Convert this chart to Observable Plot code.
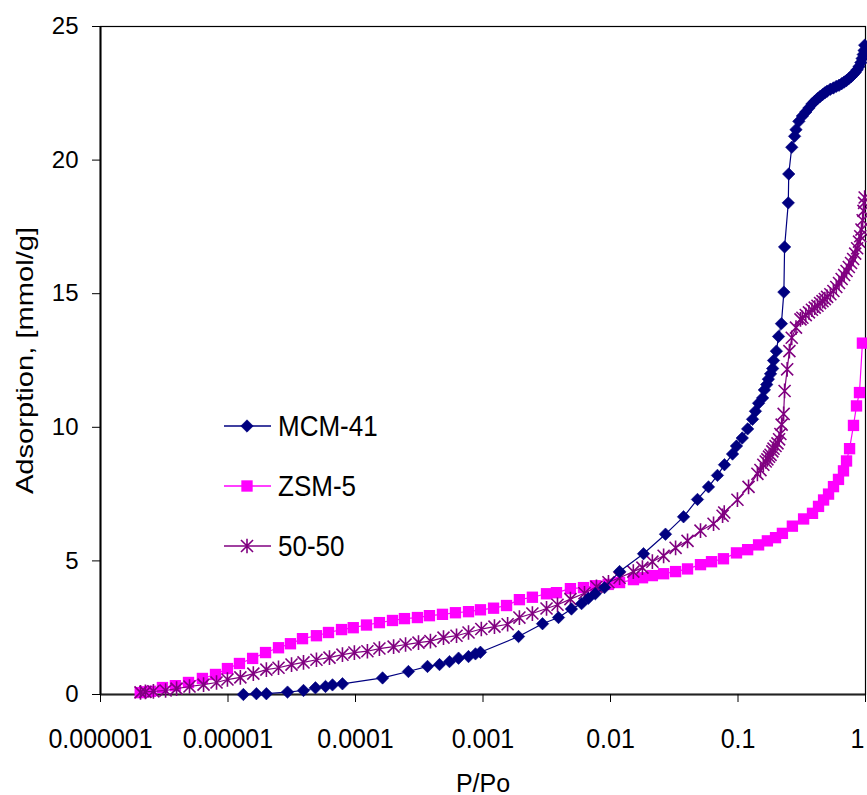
<!DOCTYPE html>
<html><head><meta charset="utf-8">
<script src="https://cdn.jsdelivr.net/npm/d3@7"></script>
<script src="https://cdn.jsdelivr.net/npm/@observablehq/plot@0.6"></script>
<style>
html,body{margin:0;padding:0;background:#fff;}
#wrap{position:relative;width:867px;height:795px;overflow:hidden;font-family:"Liberation Sans",Arial,sans-serif;background:#fff;}
#legend{position:absolute;left:0;top:0;width:0;height:0;}
.item{position:absolute;display:flex;align-items:center;height:30px;white-space:nowrap;}
.item span{font-size:26px;display:inline-block;transform:scaleY(1.15);margin-left:6px;color:#000;}
</style></head><body><div id="wrap"><div id="legend"></div></div>
<script>
// ---------------- data ----------------
const seriesNames = ["MCM-41", "ZSM-5", "50-50"];
const seriesColors = ["#000080", "#FF00FF", "#800080"];

const mcmX = [1.32e-5,1.67e-5,2.0e-5,2.93e-5,3.91e-5,4.85e-5,5.82e-5,6.6e-5,7.9e-5,1.63e-4,2.6e-4,3.67e-4,4.56e-4,5.46e-4,6.43e-4,7.7e-4,8.73e-4,9.55e-4,
  1.9e-3,2.93e-3,3.91e-3,4.94e-3,5.93e-3,6.7e-3,7.6e-3,8.97e-3,0.01178,0.01815,0.027,0.0374,0.0481,0.0587,0.069,0.0783,0.0906,0.0973,0.108,0.119,0.130,0.137,0.145,0.156,0.161,0.168,0.173,0.18,0.187,0.19,0.20,0.208,0.219,0.229,0.232,0.248,0.25,0.264,0.278,0.285,
  0.30,0.32,0.34,0.36,0.38,0.40,0.42,0.44,0.46,0.48,0.50,0.53,0.56,0.59,0.62,0.65,0.68,0.71,0.74,0.77,0.80,0.83,0.86,0.89,0.92,0.94,0.96,0.975,0.985];
const mcmY = [0,0.03,0.03,0.09,0.15,0.25,0.3,0.36,0.4,0.62,0.86,1.05,1.12,1.23,1.36,1.42,1.52,1.58,
  2.17,2.65,2.88,3.2,3.4,3.6,3.77,4.0,4.6,5.27,6.0,6.65,7.3,7.77,8.2,8.6,9.0,9.3,9.6,9.94,10.3,10.6,10.9,11.1,11.4,11.6,11.8,12.0,12.2,12.5,12.85,13.4,13.88,15.06,16.75,18.4,19.48,20.48,20.89,21.14,
  21.45,21.65,21.8,21.95,22.1,22.2,22.3,22.38,22.45,22.52,22.58,22.65,22.7,22.76,22.8,22.86,22.92,22.98,23.05,23.12,23.2,23.28,23.38,23.5,23.65,23.8,23.95,24.1,24.3];

const zsmX = [2.05e-6,2.3e-6,2.47e-6,3.06e-6,3.87e-6,4.9e-6,6.3e-6,7.98e-6,9.9e-6,1.23e-5,1.56e-5,1.97e-5,2.49e-5,3.09e-5,3.84e-5,4.94e-5,6.14e-5,7.77e-5,9.6e-5,
  1.22e-4,1.54e-4,1.95e-4,2.42e-4,3.06e-4,3.8e-4,4.81e-4,6.08e-4,7.7e-4,9.55e-4,1.21e-3,1.53e-3,1.93e-3,2.44e-3,3.15e-3,3.77e-3,4.85e-3,6.14e-3,7.62e-3,9.6e-3,
  0.01178,0.01514,0.01783,0.0213,0.0261,0.0324,0.0402,0.0508,0.062,0.0769,0.0973,0.119,0.145,0.170,0.197,0.223,0.267,0.327,0.384,0.428,0.469,0.513,0.561,0.614,0.672,0.71,0.75,0.805,0.85,0.897,0.946];
const zsmY = [0.07,0.1,0.12,0.26,0.33,0.45,0.6,0.75,0.97,1.16,1.35,1.57,1.75,1.9,2.09,2.2,2.32,2.43,2.5,
  2.6,2.69,2.77,2.84,2.88,2.95,3.0,3.06,3.1,3.17,3.23,3.33,3.55,3.64,3.77,3.81,3.96,4.0,4.07,4.12,
  4.19,4.3,4.37,4.45,4.52,4.6,4.7,4.86,4.97,5.08,5.3,5.42,5.6,5.75,5.87,6.03,6.3,6.57,6.78,7.04,7.28,7.5,7.78,8.05,8.37,8.74,9.2,10.07,10.8,11.3,13.15];

const mixX = [2.06e-6,2.25e-6,2.6e-6,3.24e-6,3.95e-6,4.99e-6,6.43e-6,8.13e-6,9.9e-6,1.25e-5,1.58e-5,2.0e-5,2.49e-5,3.15e-5,3.91e-5,4.94e-5,6.25e-5,7.9e-5,9.8e-5,
  1.24e-4,1.54e-4,1.99e-4,2.47e-4,3.12e-4,3.87e-4,4.9e-4,6.2e-4,7.7e-4,9.7e-4,1.23e-3,1.56e-3,1.93e-3,2.44e-3,3.15e-3,3.84e-3,4.85e-3,6.25e-3,7.76e-3,9.64e-3,
  0.01178,0.0151,0.0178,0.0213,0.0261,0.0324,0.0402,0.0508,0.0643,0.0757,0.078,0.099,0.121,0.142,0.15,0.158,0.165,0.17,0.175,0.18,0.186,0.19,0.197,0.204,0.21,0.215,0.22,0.228,0.232,0.243,0.253,0.264,0.285,0.309,
  0.32,0.34,0.36,0.38,0.40,0.42,0.44,0.46,0.48,0.50,0.53,0.56,0.59,0.62,0.65,0.68,0.71,0.74,0.77,0.80,0.83,0.86,0.89,0.91,0.93,0.95,0.965,0.975,0.985];
const mixY = [0.08,0.1,0.12,0.15,0.22,0.3,0.37,0.45,0.56,0.64,0.78,0.93,1.0,1.12,1.2,1.3,1.38,1.49,1.57,
  1.62,1.72,1.79,1.87,1.94,2.0,2.13,2.2,2.32,2.45,2.54,2.63,2.88,3.03,3.22,3.36,3.57,3.79,4.03,4.2,
  4.37,4.6,4.75,4.97,5.19,5.49,5.75,6.13,6.39,6.69,6.81,7.29,7.77,8.26,8.4,8.6,8.72,8.8,8.9,8.97,9.1,9.2,9.3,9.4,9.55,9.75,10.1,10.5,11.36,12.17,12.85,13.35,13.73,14.04,
  14.1,14.2,14.3,14.4,14.48,14.55,14.65,14.72,14.8,14.88,14.98,15.1,15.25,15.4,15.55,15.7,15.85,16.0,16.15,16.3,16.5,16.7,16.95,17.15,17.4,17.75,18.1,18.4,18.6];

const xTicks = [1e-6, 1e-5, 1e-4, 1e-3, 1e-2, 1e-1, 1];
const xTickLabels = ["0.000001", "0.00001", "0.0001", "0.001", "0.01", "0.1", "1"];
const yTicks = [0, 5, 10, 15, 20, 25];

// ---------------- build ----------------
const rows = (xs, ys) => xs.map((x, i) => ({x, y: ys[i]}));
const mcm = rows(mcmX, mcmY), zsm = rows(zsmX, zsmY), mix = rows(mixX, mixY);

const starSymbol = {
  draw(ctx, size) {
    const r = Math.sqrt(size) * 0.6, d = r * 0.82;
    ctx.moveTo(0, -r); ctx.lineTo(0, r);
    ctx.moveTo(-d, -d); ctx.lineTo(d, d);
    ctx.moveTo(-d, d); ctx.lineTo(d, -d);
  }
};
const rDiamond = 5.6, rSquare = 6.4, rStar = 6.9;

const chart = Plot.plot({
  width: 867, height: 795,
  marginLeft: 100, marginRight: 2, marginTop: 26, marginBottom: 101,
  style: {fontFamily: "'Liberation Sans', Arial, sans-serif", background: "#fff", color: "#000", overflow: "visible"},
  x: {type: "log", domain: [1e-6, 1]},
  y: {domain: [0, 25]},
  marks: [
    Plot.frame({stroke: "#000", strokeWidth: 1.2}),
    Plot.ruleY([0], {stroke: "#222", strokeWidth: 2}),
    Plot.ruleX([1e-6], {stroke: "#000", strokeWidth: 2}),
    Plot.axisX({ticks: xTicks, tickFormat: d => xTickLabels[xTicks.indexOf(d)], tickSize: 8, tickPadding: 26, fontSize: 25,
      stroke: "#000", label: "P/Po", labelAnchor: "center", labelArrow: "none", labelOffset: 97}),
    Plot.axisY({ticks: yTicks, tickSize: 8, tickPadding: 14, fontSize: 24, stroke: "#000",
      label: "Adsorption, [mmol/g]", labelAnchor: "center", labelArrow: "none", labelOffset: 85}),
    Plot.line(zsm, {x: "x", y: "y", stroke: seriesColors[1], strokeWidth: 1.2}),
    Plot.dot(zsm, {x: "x", y: "y", symbol: "square", r: rSquare, fill: seriesColors[1], stroke: "none"}),
    Plot.line(mix, {x: "x", y: "y", stroke: seriesColors[2], strokeWidth: 1.2}),
    Plot.dot(mix, {x: "x", y: "y", symbol: starSymbol, r: rStar, fill: "none", stroke: seriesColors[2], strokeWidth: 1.6}),
    Plot.line(mcm, {x: "x", y: "y", stroke: seriesColors[0], strokeWidth: 1.2}),
    Plot.dot(mcm, {x: "x", y: "y", symbol: "diamond2", r: rDiamond, fill: seriesColors[0], stroke: seriesColors[0], strokeWidth: 0.6})
  ]
});

const wrap = document.getElementById("wrap");
wrap.insertBefore(chart, wrap.firstChild);

// text tweaks
d3.select(chart).selectAll('g[aria-label="y-axis label"] text').attr("transform", function () {
  return (this.getAttribute("transform") || "") + " scale(1.19,1)";
}).attr("font-size", 24.5);
d3.select(chart).selectAll('g[aria-label="x-axis label"] text').attr("font-size", 25);
const xLabels = d3.select(chart).selectAll('g[aria-label="x-axis tick label"] text');
xLabels.attr("transform", function () {
  return (this.getAttribute("transform") || "") + " scale(1,1.08)";
});
xLabels.filter(function () { return this.textContent === "1"; }).attr("text-anchor", "end").attr("dx", -1);

// legend
const legendTops = [426, 486, 546];
const legend = d3.select("#legend");
seriesNames.forEach((name, i) => {
  const item = legend.append("div").attr("class", "item")
    .style("left", "222px").style("top", (legendTops[i] - 15) + "px");
  const s = item.append("svg").attr("width", 50).attr("height", 30);
  s.append("line").attr("x1", 2).attr("x2", 49).attr("y1", 15).attr("y2", 15)
    .attr("stroke", seriesColors[i]).attr("stroke-width", 1.3);
  const g = s.append("g").attr("transform", "translate(25,15)");
  if (i === 0) g.append("path").attr("d", d3.symbol(d3.symbolDiamond2, Math.PI * rDiamond * rDiamond)()).attr("fill", seriesColors[0]).attr("stroke", seriesColors[0]).attr("stroke-width", 0.6);
  if (i === 1) g.append("path").attr("d", d3.symbol(d3.symbolSquare, Math.PI * rSquare * rSquare)()).attr("fill", seriesColors[1]);
  if (i === 2) g.append("path").attr("d", d3.symbol(starSymbol, Math.PI * rStar * rStar)()).attr("fill", "none").attr("stroke", seriesColors[2]).attr("stroke-width", 1.6);
  item.append("span").text(name);
});
</script></body></html>
